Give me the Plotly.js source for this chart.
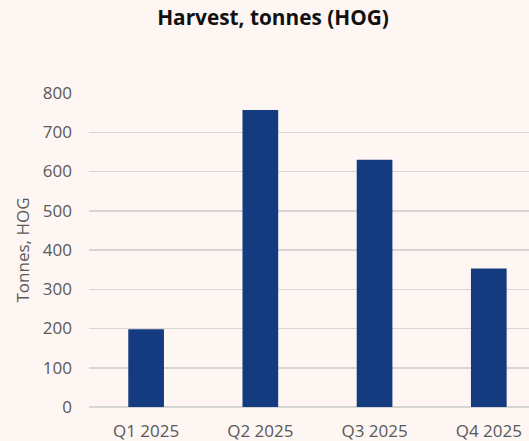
<!DOCTYPE html>
<html>
<head>
<meta charset="utf-8">
<script src="https://cdn.plot.ly/plotly-3.0.1.min.js"></script>
<style>
  html, body { margin: 0; padding: 0; background: #fdf6f3; }
  #chart { width: 529px; height: 441px; }
</style>
</head>
<body>
<div id="chart"></div>
<script>
const categories = ["Q1 2025", "Q2 2025", "Q3 2025", "Q4 2025"];
const harvestTonnes = [198, 757, 630, 353];
const yTickValues = [0, 100, 200, 300, 400, 500, 600, 700, 800];

const trace = {
  type: "bar",
  x: categories,
  y: harvestTonnes,
  width: 0.3125,
  marker: { color: "#143a80", line: { width: 0 } },
  hoverinfo: "x+y"
};

const layout = {
  width: 529,
  height: 441,
  paper_bgcolor: "#fdf6f3",
  plot_bgcolor: "#fdf6f3",
  margin: { l: 89, r: 0, t: 93, b: 34 },
  showlegend: false,
  title: {
    text: "<b>Harvest, tonnes (HOG)</b>",
    font: { family: "Open Sans, sans-serif", size: 20.8, color: "#111111" },
    x: 273 / 529, xref: "container", xanchor: "center",
    y: 1 - 18 / 441, yref: "container", yanchor: "middle"
  },
  xaxis: {
    type: "category",
    range: [-0.5, 3.352],
    showgrid: false,
    showline: false,
    zeroline: false,
    ticks: "",
    ticklabelstandoff: 12,
    tickfont: { family: "Open Sans, sans-serif", size: 17, color: "#595959" },
    fixedrange: true
  },
  yaxis: {
    range: [0, 800],
    tickvals: yTickValues,
    ticktext: yTickValues.map(String),
    showgrid: true,
    gridcolor: "#d6d6d6",
    gridwidth: 1.5,
    zeroline: true,
    zerolinecolor: "#d6d6d6",
    zerolinewidth: 1.5,
    showline: false,
    ticks: "",
    ticklabelstandoff: 16,
    tickfont: { family: "Open Sans, sans-serif", size: 17, color: "#595959" },
    title: {
      text: "Tonnes, HOG",
      font: { family: "Open Sans, sans-serif", size: 17, color: "#595959" },
      standoff: 8
    },
    automargin: false,
    fixedrange: true
  },
  bargap: 0.6875
};

Plotly.newPlot("chart", [trace], layout, { displayModeBar: false, staticPlot: true });
</script>
</body>
</html>
